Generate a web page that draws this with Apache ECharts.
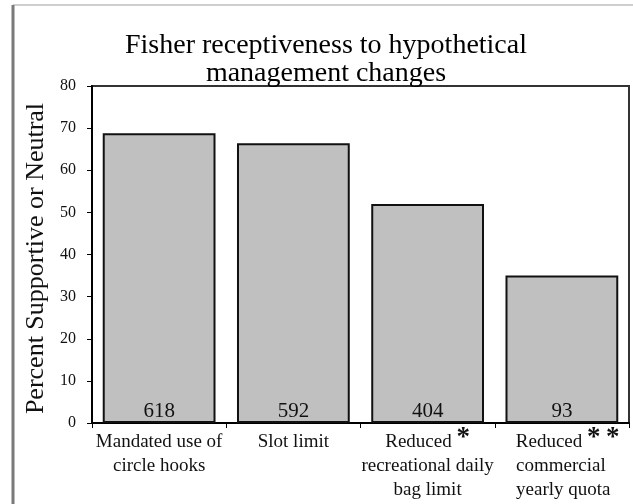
<!DOCTYPE html>
<html>
<head>
<meta charset="utf-8">
<script src="https://cdn.jsdelivr.net/npm/echarts@6/dist/echarts.min.js"></script>
<style>
html,body{margin:0;padding:0;background:#fff;}
#chart{width:633px;height:504px;}
</style>
</head>
<body>
<div id="chart"></div>
<script>
// ---- data ----
var titleText = 'Fisher receptiveness to hypothetical\nmanagement changes';
var yAxisName = 'Percent Supportive or Neutral';
var categoryLines = [
  ['Mandated use of', 'circle hooks'],
  ['Slot limit'],
  ['Reduced ', 'recreational daily', 'bag limit'],
  ['Reduced ', 'commercial', 'yearly quota']
];
var categoryMarks = ['', '', '*', '*\u2009*'];
var percentValues = [68.8, 66.4, 52.0, 35.0];
var sampleSizes = [618, 592, 404, 93];
var yTicks = [0, 10, 20, 30, 40, 50, 60, 70, 80];

var serif = '"Liberation Serif", "DejaVu Serif", serif';
var labelFont = 19, markFont = 27;

// measure text to left-align the last category label block
var cv = document.createElement('canvas').getContext('2d');
function tw(text, size, bold) {
  cv.font = (bold ? 'bold ' : '') + size + 'px ' + serif;
  return cv.measureText(text).width;
}

var rich = {
  t: { fontFamily: serif, fontSize: labelFont, color: '#111', lineHeight: 24 },
  p: { fontFamily: serif, fontSize: labelFont, lineHeight: 24, width: 12 },
  s: { fontFamily: serif, fontSize: markFont, fontWeight: 'bold', color: '#111', lineHeight: 24, padding: [0, 0, 7, 0] }
};

function buildLabel(lines, mark, i) {
  if (i === 3) {
    var widths = lines.map(function (l, k) {
      return tw(l, labelFont) + (k === 0 ? tw(mark, markFont, true) : 0);
    });
    var maxW = Math.max.apply(null, widths);
    return lines.map(function (l, k) {
      var key = 'q' + k;
      rich[key] = { fontFamily: serif, fontSize: labelFont, lineHeight: 24, width: Math.max(0.5, maxW - widths[k]) };
      var body = k === 0 ? '{t|' + l + '}{s|' + mark + '}' : '{t|' + l + '}';
      return '{p|\u00a0}' + body + '{' + key + '|\u00a0}';
    }).join('\n');
  }
  return lines.map(function (l, k) {
    if (k === 0 && mark) return '{t|' + l + '}{s|' + mark + '}';
    return '{t|' + l + '}';
  }).join('\n');
}
var catData = categoryLines.map(function (lines, i) { return buildLabel(lines, categoryMarks[i], i); });

var chart = echarts.init(document.getElementById('chart'), null, { renderer: 'canvas' });
chart.setOption({
  animation: false,
  backgroundColor: '#fff',
  title: {
    text: titleText,
    left: 321,
    top: 27,
    textAlign: 'center',
    textStyle: { fontFamily: serif, fontSize: 28, fontWeight: 'normal', color: '#000', lineHeight: 28 }
  },
  graphic: [
    { type: 'line', shape: { x1: 13, y1: 5, x2: 633, y2: 5 }, style: { stroke: '#cfcfcf', lineWidth: 2 } },
    { type: 'line', shape: { x1: 13, y1: 5, x2: 13, y2: 504 }, style: { stroke: '#7a7a7a', lineWidth: 3 } }
  ],
  grid: {
    left: 92, right: 4, top: 86, bottom: 81,
    show: true, borderColor: '#333', borderWidth: 2, backgroundColor: 'transparent',
    containLabel: false
  },
  xAxis: {
    type: 'category',
    data: catData,
    boundaryGap: true,
    axisLine: { lineStyle: { color: '#000', width: 2 } },
    axisTick: { show: true, length: 5, inside: false, alignWithLabel: false, lineStyle: { color: '#000', width: 1 } },
    axisLabel: {
      interval: 0,
      margin: 7,
      fontFamily: serif,
      fontSize: labelFont,
      color: '#111',
      lineHeight: 24,
      rich: rich
    }
  },
  yAxis: {
    type: 'value',
    min: 0, max: 80, interval: 10,
    name: yAxisName,
    nameLocation: 'middle',
    nameGap: 43,
    nameMoveOverlap: false,
    nameTextStyle: { fontFamily: serif, fontSize: 26, color: '#111', padding: [0, 8, 0, 0] },
    axisLine: { show: true, lineStyle: { color: '#000', width: 2 } },
    axisTick: { show: true, length: 5, lineStyle: { color: '#000', width: 1 } },
    splitLine: { show: false },
    axisLabel: {
      margin: 16,
      fontFamily: serif, fontSize: 16, color: '#111',
      formatter: function (v) { return yTicks.indexOf(v) >= 0 ? String(v) : ''; }
    }
  },
  series: [{
    type: 'bar',
    data: percentValues,
    barCategoryGap: '16%',
    itemStyle: { color: '#c0c0c0', borderColor: '#111', borderWidth: 2 },
    label: {
      show: true,
      position: 'insideBottom',
      distance: 1,
      fontFamily: serif, fontSize: 21, color: '#111',
      formatter: function (p) { return String(sampleSizes[p.dataIndex]); }
    }
  }]
});
</script>
</body>
</html>
